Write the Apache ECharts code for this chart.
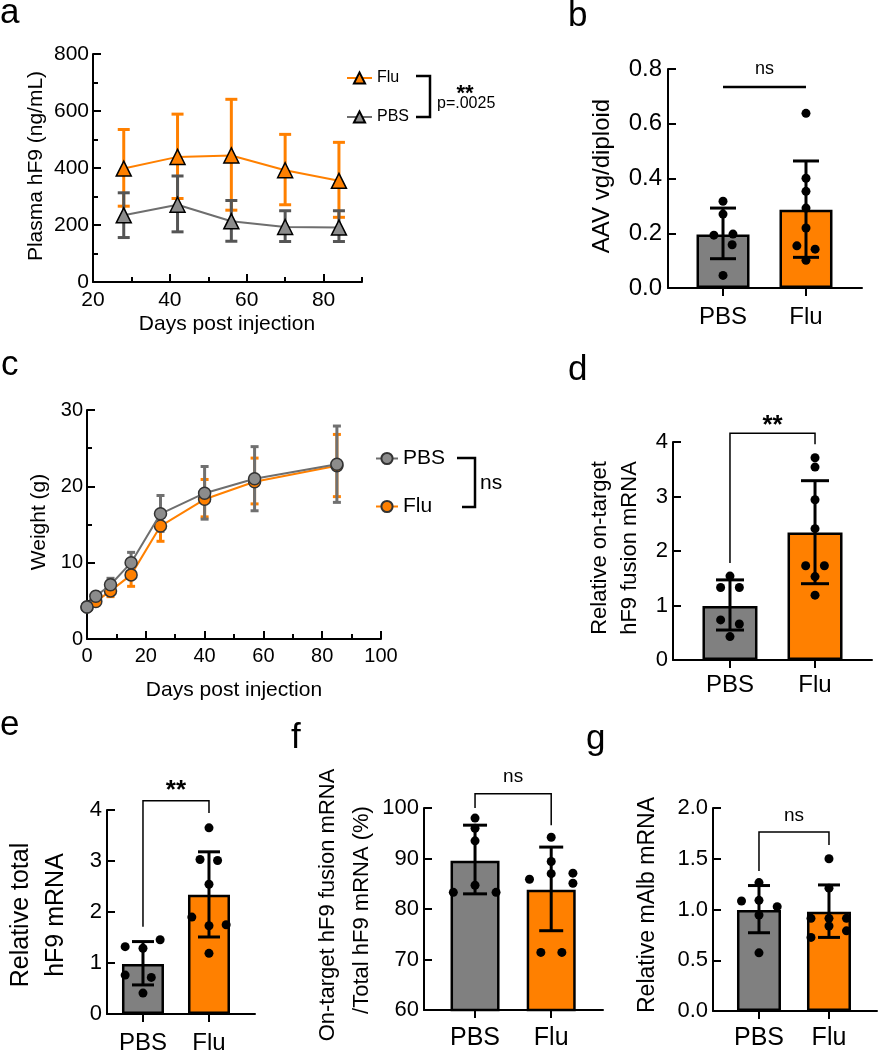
<!DOCTYPE html>
<html><head><meta charset="utf-8">
<script src="https://cdn.jsdelivr.net/npm/echarts@6/dist/echarts.min.js"></script>
<style>html,body{margin:0;padding:0;background:#fff}#c{width:878px;height:1050px}</style>
</head><body><div id="c"></div>
<script>
const groups = ['PBS', 'Flu'];

// Panel a: plasma hF9
const aDays = [28, 42, 56, 70, 84];
const aFluMean = [398, 439, 444, 392, 355];
const aFluLow = [266, 293, 252, 271, 227];
const aFluHigh = [535, 589, 641, 518, 490];
const aPbsMean = [234, 271, 213, 193, 191];
const aPbsLow = [156, 176, 143, 142, 142];
const aPbsHigh = [313, 372, 286, 250, 250];
const aXMajor = [20, 40, 60, 80];
const aXMinor = [30, 50, 70, 90];

// Panel b: AAV vg/diploid
const bMeans = [0.195, 0.286];
const bLow = [0.107, 0.112];
const bHigh = [0.292, 0.464];
const bPbsVals = [0.317, 0.270, 0.193, 0.197, 0.158, 0.046];
const bPbsDx = [0, 0, -0.11, 0.12, 0.11, 0];
const bFluVals = [0.638, 0.401, 0.353, 0.292, 0.219, 0.154, 0.142, 0.101];
const bFluDx = [0, 0, 0, 0, 0, -0.11, 0.11, 0];
const bBracket = [0, 1, 0.734, 0.734, 0.734];
const bSig = 'ns';

// Panel c: weight
const cDays = [0, 3, 8, 15, 25, 40, 57, 85];
const cPbsMean = [4.2, 5.6, 7.1, 10.0, 16.4, 19.1, 21.0, 22.9];
const cPbsLow = [3.9, 5.0, 6.2, 8.6, 14.1, 15.7, 16.8, 17.9];
const cPbsHigh = [4.5, 6.1, 7.95, 11.35, 18.8, 22.6, 25.2, 27.9];
const cFluMean = [4.2, 4.9, 6.3, 8.4, 14.8, 18.3, 20.6, 22.7];
const cFluLow = [3.9, 4.4, 5.55, 6.9, 12.8, 16.0, 17.7, 18.65];
const cFluHigh = [4.5, 5.4, 6.9, 9.9, 16.8, 20.9, 23.7, 26.8];

// Panel d: relative on-target hF9 fusion mRNA
const dMeans = [0.99, 2.34];
const dLow = [0.55, 1.40];
const dHigh = [1.47, 3.29];
const dPbsVals = [1.54, 1.33, 1.33, 0.735, 0.66, 0.43];
const dPbsDx = [0, -0.11, 0.11, -0.11, 0.11, 0];
const dFluVals = [3.71, 3.54, 2.94, 2.41, 1.73, 1.73, 1.53, 1.19];
const dFluDx = [0, 0, 0, 0, -0.11, 0.11, 0, 0];
const dBracket = [0, 1, 4.16, 1.78, 3.96];
const dSig = '**';

// Panel e: relative total hF9 mRNA
const eMeans = [0.98, 2.34];
const eLow = [0.57, 1.51];
const eHigh = [1.42, 3.18];
const ePbsVals = [1.32, 1.29, 1.455, 0.763, 0.718, 0.41];
const ePbsDx = [-0.27, 0, 0.26, -0.27, 0.126, 0];
const eFluVals = [3.65, 3.03, 3.01, 2.545, 1.90, 1.73, 1.75, 1.19];
const eFluDx = [0, -0.136, 0.13, 0, -0.26, 0, 0.26, 0];
const eBracket = [0, 1, 4.18, 1.71, 3.94];
const eSig = '**';

// Panel f: on-target / total (%)
const fMeans = [89.55, 83.8];
const fLow = [83.0, 75.7];
const fHigh = [96.6, 92.26];
const fPbsVals = [98.0, 96.0, 93.5, 84.7, 83.3, 83.3];
const fPbsDx = [0, 0, 0, 0, -0.285, 0.276];
const fFluVals = [94.2, 89.4, 87.0, 85.9, 87.1, 85.1, 71.4, 71.4];
const fFluDx = [0, 0, 0, -0.285, 0.285, 0.285, -0.136, 0.14];
const fBracket = [0, 1, 102.8, 100, 96.6];
const fSig = 'ns';

// Panel g: relative mAlb mRNA
const gMeans = [0.995, 0.979];
const gLow = [0.771, 0.725];
const gHigh = [1.236, 1.242];
const gPbsVals = [1.265, 1.084, 1.09, 1.028, 0.946, 0.573];
const gPbsDx = [0, -0.25, 0, 0.26, 0, 0];
const gFluVals = [1.5, 1.21, 0.913, 0.913, 0.913, 0.837, 0.725, 0.79];
const gFluDx = [0, 0, -0.257, 0, 0.25, 0, -0.257, 0.25];
const gBracket = [0, 1, 1.764, 1.379, 1.635];
const gSig = 'ns';

const FONT = '"Liberation Sans", Arial, Helvetica, sans-serif';
const ORANGE = '#FF8000', GRAY = '#808080';

function valAxis(idx, min, max, interval, o) {
  o = o || {};
  const ax = {
    gridIndex: idx, type: 'value', min: min, max: max,
    splitLine: {show: false},
    axisLine: {show: o.line !== false, onZero: false, lineStyle: {color: '#000', width: 2}},
    axisTick: {show: true, inside: o.tickInside !== false, length: o.tickLen || 8, lineStyle: {color: '#000', width: 2}},
    minorTick: {show: !!o.minor, splitNumber: 2, length: 5, lineStyle: {color: '#000', width: 2}},
    axisLabel: {show: o.label !== false, color: '#000', fontFamily: FONT, fontSize: o.fs || 21, margin: o.margin || 4},
  };
  if (o.pos) ax.position = o.pos;
  if (interval != null) ax.interval = interval;
  if (o.fmt) ax.axisLabel.formatter = o.fmt;
  if (o.custom) { ax.axisTick.customValues = o.custom; ax.axisLabel.customValues = o.custom; }
  return ax;
}

function errRender(color, lw, capHalf) {
  return function (params, api) {
    const x = api.value(0);
    const lo = api.coord([x, api.value(1)]);
    const hi = api.coord([x, api.value(2)]);
    const st = {stroke: color, lineWidth: lw, fill: null};
    return {type: 'group', children: [
      {type: 'line', shape: {x1: lo[0], y1: lo[1], x2: hi[0], y2: hi[1]}, style: st},
      {type: 'line', shape: {x1: lo[0] - capHalf, y1: lo[1], x2: lo[0] + capHalf, y2: lo[1]}, style: st},
      {type: 'line', shape: {x1: hi[0] - capHalf, y1: hi[1], x2: hi[0] + capHalf, y2: hi[1]}, style: st}
    ]};
  };
}

function bracketRender(label, fs, bold, lw, offset) {
  return function (params, api) {
    const x1 = api.value(0), x2 = api.value(1);
    const t1 = api.coord([x1, api.value(2)]), t2 = api.coord([x2, api.value(2)]);
    const l = api.coord([x1, api.value(3)]), r = api.coord([x2, api.value(4)]);
    return {type: 'group', children: [
      {type: 'polyline', shape: {points: [l, t1, t2, r]}, style: {stroke: '#000', lineWidth: lw, fill: null}},
      {type: 'text', x: (t1[0] + t2[0]) / 2, y: t1[1] - offset,
       style: {text: label, fill: '#000', fontFamily: FONT, fontSize: fs, fontWeight: bold ? 'bold' : 'normal', align: 'center', verticalAlign: 'middle'}}
    ]};
  };
}

function barPanel(i, means, low, high, pv, pdx, fv, fdx, br, sig, st) {
  return [
    {type: 'bar', xAxisIndex: i, yAxisIndex: i, barWidth: st.bw, z: 2,
     itemStyle: {borderColor: '#000', borderWidth: 2.5},
     data: means.map((m, k) => ({value: [k, m], itemStyle: {color: k ? ORANGE : GRAY}}))},
    {type: 'custom', xAxisIndex: i, yAxisIndex: i, z: 3, encode: {x: 0, y: [1, 2]},
     renderItem: errRender('#000', 3, st.cap), data: means.map((m, k) => [k, low[k], high[k]])},
    {type: 'scatter', xAxisIndex: i, yAxisIndex: i, z: 4, symbolSize: 9, itemStyle: {color: '#000', opacity: 1},
     data: pv.map((v, k) => [pdx[k], v])},
    {type: 'scatter', xAxisIndex: i, yAxisIndex: i, z: 4, symbolSize: 9, itemStyle: {color: '#000', opacity: 1},
     data: fv.map((v, k) => [1 + fdx[k], v])},
    {type: 'custom', xAxisIndex: i, yAxisIndex: i, z: 5, clip: false, encode: {x: [0, 1], y: [2, 3, 4]},
     renderItem: bracketRender(sig, st.sfs, sig !== 'ns', st.blw, st.soff), data: [br]}
  ];
}

const grids = [
  {left: 93, top: 54, width: 269, height: 228},   // a
  {left: 668, top: 69, width: 194, height: 219},  // b
  {left: 87, top: 410, width: 294, height: 229},  // c
  {left: 673, top: 442, width: 199, height: 218}, // d
  {left: 107, top: 810, width: 148, height: 204}, // e
  {left: 424, top: 808, width: 179, height: 202}, // f
  {left: 713, top: 808, width: 164, height: 203}  // g
].map(g => Object.assign({containLabel: false, outerBoundsMode: 'none'}, g));

const catFmt = v => groups[Math.round(v)];
const f1 = v => v.toFixed(1);

const xAxes = [
  valAxis(0, 20, 90, 20, {custom: aXMajor, margin: 8, fs: 21, pos: 'bottom'}),
  valAxis(1, -0.663, 1.675, null, {tickInside: false, custom: [0, 1], fmt: catFmt, fs: 24, margin: 17, pos: 'bottom'}),
  valAxis(2, 0, 100, 20, {minor: true, margin: 7, fs: 20, pos: 'bottom'}),
  valAxis(3, -0.67, 1.67, null, {tickInside: false, custom: [0, 1], fmt: catFmt, fs: 24, margin: 13, pos: 'bottom'}),
  valAxis(4, -0.545, 1.697, null, {tickInside: false, custom: [0, 1], fmt: catFmt, fs: 24, margin: 17, pos: 'bottom'}),
  valAxis(5, -0.67, 1.68, null, {tickInside: false, custom: [0, 1], fmt: catFmt, fs: 25, margin: 16, pos: 'bottom'}),
  valAxis(6, -0.657, 1.686, null, {tickInside: false, custom: [0, 1], fmt: catFmt, fs: 25, margin: 15, pos: 'bottom'}),
  valAxis(0, 20, 90, 10, {custom: aXMinor, line: false, label: false, tickLen: 5, pos: 'bottom'})
];
const yAxes = [
  valAxis(0, 0, 800, 200, {minor: true, fs: 21, margin: 4}),
  valAxis(1, 0, 0.8, 0.2, {fmt: f1, fs: 24, margin: 6}),
  valAxis(2, 0, 30, 10, {minor: true, fs: 20, margin: 4}),
  valAxis(3, 0, 4, 1, {fs: 22, margin: 5}),
  valAxis(4, 0, 4, 1, {fs: 22, margin: 5}),
  valAxis(5, 60, 100, 10, {fs: 22, margin: 5}),
  valAxis(6, 0, 2, 0.5, {fmt: f1, fs: 22, margin: 5})
];

const series = [
  // panel a
  {type: 'custom', xAxisIndex: 0, yAxisIndex: 0, z: 1, encode: {x: 0, y: [1, 2]},
   renderItem: errRender(ORANGE, 3, 6), data: aDays.map((d, i) => [d, aFluLow[i], aFluHigh[i]])},
  {type: 'custom', xAxisIndex: 0, yAxisIndex: 0, z: 1, encode: {x: 0, y: [1, 2]},
   renderItem: errRender('#555555', 3, 6), data: aDays.map((d, i) => [d, aPbsLow[i], aPbsHigh[i]])},
  {type: 'line', name: 'a:PBS', xAxisIndex: 0, yAxisIndex: 0, z: 3, symbol: 'triangle', symbolSize: 15,
   lineStyle: {color: '#6E6E6E', width: 2}, itemStyle: {color: '#8C8C8C', borderColor: '#000', borderWidth: 1.5},
   data: aDays.map((d, i) => [d, aPbsMean[i]])},
  {type: 'line', name: 'a:Flu', xAxisIndex: 0, yAxisIndex: 0, z: 3, symbol: 'triangle', symbolSize: 15,
   lineStyle: {color: ORANGE, width: 2}, itemStyle: {color: ORANGE, borderColor: '#000', borderWidth: 1.5},
   data: aDays.map((d, i) => [d, aFluMean[i]])},
  // panel c
  {type: 'custom', xAxisIndex: 2, yAxisIndex: 2, z: 1, encode: {x: 0, y: [1, 2]},
   renderItem: errRender(ORANGE, 3, 4), data: cDays.map((d, i) => [d, cFluLow[i], cFluHigh[i]])},
  {type: 'custom', xAxisIndex: 2, yAxisIndex: 2, z: 1, encode: {x: 0, y: [1, 2]},
   renderItem: errRender('#707070', 3, 4), data: cDays.map((d, i) => [d, cPbsLow[i], cPbsHigh[i]])},
  {type: 'line', name: 'c:Flu', xAxisIndex: 2, yAxisIndex: 2, z: 3, symbol: 'circle', symbolSize: 12,
   lineStyle: {color: ORANGE, width: 2}, itemStyle: {color: ORANGE, borderColor: '#333', borderWidth: 1.5},
   data: cDays.map((d, i) => [d, cFluMean[i]])},
  {type: 'line', name: 'c:PBS', xAxisIndex: 2, yAxisIndex: 2, z: 4, symbol: 'circle', symbolSize: 12,
   lineStyle: {color: '#6E6E6E', width: 2}, itemStyle: {color: '#8C8C8C', borderColor: '#333', borderWidth: 1.5},
   data: cDays.map((d, i) => [d, cPbsMean[i]])}
].concat(
  barPanel(1, bMeans, bLow, bHigh, bPbsVals, bPbsDx, bFluVals, bFluDx, bBracket, bSig, {bw: 53, cap: 13, sfs: 18, blw: 2.5, soff: 18}),
  barPanel(3, dMeans, dLow, dHigh, dPbsVals, dPbsDx, dFluVals, dFluDx, dBracket, dSig, {bw: 55, cap: 14, sfs: 26, blw: 1.5, soff: 7}),
  barPanel(4, eMeans, eLow, eHigh, ePbsVals, ePbsDx, eFluVals, eFluDx, eBracket, eSig, {bw: 42, cap: 11, sfs: 26, blw: 1.5, soff: 10}),
  barPanel(5, fMeans, fLow, fHigh, fPbsVals, fPbsDx, fFluVals, fFluDx, fBracket, fSig, {bw: 49, cap: 12, sfs: 19, blw: 1.5, soff: 17}),
  barPanel(6, gMeans, gLow, gHigh, gPbsVals, gPbsDx, gFluVals, gFluDx, gBracket, gSig, {bw: 44, cap: 11, sfs: 19, blw: 1.5, soff: 16})
);

const R = Math.PI / 2;
function T(x, y, text, fs, o) {
  o = o || {};
  return {type: 'text', x: x, y: y, rotation: o.rot || 0, silent: true, z: 10,
    style: {text: text, fill: '#000', fontFamily: FONT, fontSize: fs, fontWeight: o.bold ? 'bold' : 'normal',
            align: o.align || 'left', verticalAlign: 'middle'}};
}
function P(points, lw) {
  return {type: 'polyline', silent: true, z: 10, shape: {points: points}, style: {stroke: '#000', lineWidth: lw, fill: null}};
}

const graphic = [
  T(0, 13, 'a', 35), T(568, 16, 'b', 35), T(1, 365, 'c', 35), T(568, 370, 'd', 35),
  T(0, 725, 'e', 35), T(291, 738, 'f', 35), T(586, 739, 'g', 35),
  T(36, 166, 'Plasma hF9 (ng/mL)', 21, {rot: R, align: 'center'}),
  T(602, 176, 'AAV vg/diploid', 24, {rot: R, align: 'center'}),
  T(39, 522, 'Weight (g)', 21, {rot: R, align: 'center'}),
  T(600, 548, 'Relative on-target', 22, {rot: R, align: 'center'}),
  T(630, 548, 'hF9 fusion mRNA', 22, {rot: R, align: 'center'}),
  T(21, 915, 'Relative total', 25, {rot: R, align: 'center'}),
  T(56, 915, 'hF9 mRNA', 25, {rot: R, align: 'center'}),
  T(328, 905, 'On-target hF9 fusion mRNA', 22, {rot: R, align: 'center'}),
  T(362, 910, '/Total hF9 mRNA (%)', 22, {rot: R, align: 'center'}),
  T(648, 905, 'Relative mAlb mRNA', 23, {rot: R, align: 'center'}),
  T(227, 324, 'Days post injection', 21, {align: 'center'}),
  T(234, 690, 'Days post injection', 21, {align: 'center'}),
  P([[416, 76], [430, 76], [430, 117], [416, 117]], 2.5),
  T(465, 94, '**', 22, {bold: true, align: 'center'}),
  T(437, 104, 'p=.0025', 16),
  P([[457, 458], [475, 458], [475, 507], [462, 507]], 2.5),
  T(480, 483, 'ns', 21)
];

const legendFmt = n => n.split(':')[1];
const option = {
  animation: false,
  backgroundColor: '#fff',
  textStyle: {fontFamily: FONT},
  grid: grids,
  xAxis: xAxes,
  yAxis: yAxes,
  legend: [
    {data: ['a:Flu', 'a:PBS'], orient: 'vertical', left: 346, top: 70, padding: 0, itemWidth: 25, itemHeight: 14, itemGap: 23,
     selectedMode: false, formatter: legendFmt, textStyle: {fontSize: 16, color: '#000', fontFamily: FONT}},
    {data: ['c:PBS', 'c:Flu'], orient: 'vertical', left: 375, top: 448, padding: 0, itemWidth: 22, itemHeight: 14, itemGap: 27,
     selectedMode: false, formatter: legendFmt, textStyle: {fontSize: 21, color: '#000', fontFamily: FONT}}
  ],
  series: series,
  graphic: graphic
};
const chart = echarts.init(document.getElementById('c'), null, {renderer: 'canvas'});
chart.setOption(option);
</script></body></html>
